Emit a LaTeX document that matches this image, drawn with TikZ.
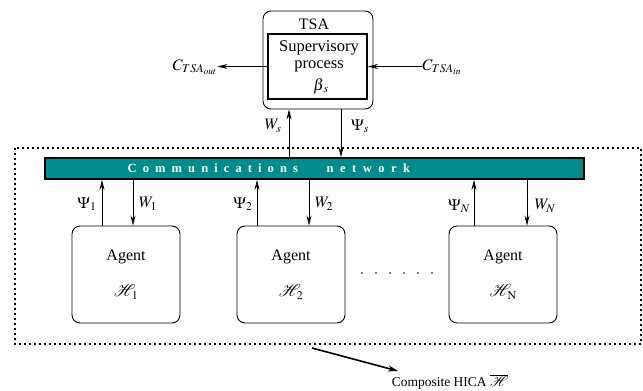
\documentclass[tikz,border=0pt]{standalone}
\usepackage{mathptmx}
\usepackage{mathrsfs}
\usepackage{fontspec}
\setmainfont{Liberation Serif}
\usetikzlibrary{arrows.meta}
\definecolor{netteal}{RGB}{0,140,140}
\newcommand\lgap{\hspace{6.1pt}}
\newcommand\ngap{\hspace{6.5pt}}
\begin{document}
\begin{tikzpicture}[x=1pt,y=-1pt,
  box/.style={draw, rounded corners=8pt, line width=0.9pt, inner sep=0},
  arr/.style={-{Stealth[length=10pt,width=5pt]}, line width=0.8pt},
  lbl/.style={font=\fontsize{16}{19}\selectfont, inner sep=0},
  nettext/.style={inner sep=0, anchor=west, text=white, font=\bfseries\fontsize{12.5}{14}\selectfont}]
\useasboundingbox (0,0) rectangle (643,391);
% dotted frame of the composite
\draw[line width=1.8pt, dash pattern=on 1.8pt off 3.2pt] (15,148) rectangle (641,344);
% TSA
\node[box, minimum width=110pt, minimum height=98pt] (tsa) at (318,60) {};
\node[draw, line width=2pt, inner sep=0, minimum width=99pt, minimum height=65pt] (sup) at (317.5,66.5) {};
\node[lbl] (tsalbl) at (314,24) {TSA};
\node[inner sep=0, align=center, font=\fontsize{16.5}{17}\selectfont, anchor=north] (suplbl) at (319,40)
  {Supervisory\\process\hspace{15pt}};
\node[lbl] (beta) at (321,86) {$\beta_{\,s}$};
\node[lbl] (cout) at (195,67) {$C_{TSA_{out}}$};
\node[lbl] (cin) at (442,67) {$C_{TSA_{in}}$};
\draw[arr] (sup.west) -- (sup.west -| cout.east);
\draw[arr] (sup.east -| cin.west) -- (sup.east);
% network bar
\node[draw, line width=1.8pt, fill=netteal, inner sep=0, minimum width=539pt, minimum height=21pt] (bar) at (314.5,168.5) {};
\node[nettext] (barlbl1) at (127.5,168.5)
  {C\lgap o\lgap m\lgap m\lgap u\lgap n\lgap i\lgap c\lgap a\lgap t\lgap i\lgap o\lgap n\lgap s};
\node[nettext] (barlbl2) at (326.5,168.5)
  {n\ngap e\ngap t\ngap w\ngap o\ngap r\ngap k};
% TSA <-> network
\coordinate (ws) at ([xshift=-29pt]tsa.south);
\coordinate (ps) at ([xshift=23pt]tsa.south);
\draw[arr] (ws |- bar.north) -- (ws);
\draw[arr] (ps) -- (ps |- bar.north);
\node[lbl] (wslbl) at (273,126) {$W_s$};
\node[lbl] (pslbl) at (360,126) {$\Psi_s$};
% agents
\node[box, minimum width=108pt, minimum height=97pt] (a1) at (126,274.5) {};
\node[box, minimum width=108pt, minimum height=97pt] (a2) at (291,274.5) {};
\node[box, minimum width=108pt, minimum height=97pt] (aN) at (503,274.5) {};
\node[lbl] (a1t) at (126,257) {Agent};
\node[lbl] (a2t) at (291,257) {Agent};
\node[lbl] (aNt) at (503,257) {Agent};
\node[lbl] (a1h) at (126,292) {$\mathscr{H}_{\,1}$};
\node[lbl] (a2h) at (291,292) {$\mathscr{H}_{\,2}$};
\node[lbl] (aNh) at (503,292) {$\mathscr{H}_{\,\mathrm{N}}$};
% agent <-> network arrows
\coordinate (p1) at ([xshift=-24pt]a1.north);
\coordinate (w1) at ([xshift=7pt]a1.north);
\coordinate (p2) at ([xshift=-34pt]a2.north);
\coordinate (w2) at ([xshift=18pt]a2.north);
\coordinate (pN) at ([xshift=-29pt]aN.north);
\coordinate (wN) at ([xshift=24pt]aN.north);
\draw[arr] (p1) -- (p1 |- bar.south);
\draw[arr] (w1 |- bar.south) -- (w1);
\draw[arr] (p2) -- (p2 |- bar.south);
\draw[arr] (w2 |- bar.south) -- (w2);
\draw[arr] (pN) -- (pN |- bar.south);
\draw[arr] (wN |- bar.south) -- (wN);
\node[lbl] (p1l) at (87,204) {$\Psi_1$};
\node[lbl] (w1l) at (148,204) {$W_1$};
\node[lbl] (p2l) at (243,204) {$\Psi_2$};
\node[lbl] (w2l) at (324,204) {$W_2$};
\node[lbl] (pNl) at (459,206) {$\Psi_N$};
\node[lbl] (wNl) at (545,206) {$W_N$};
% ellipsis dots
\foreach \i in {0,...,5} \fill (362+14*\i,273) circle (0.8pt);
% composite label
\node[inner sep=0, font=\fontsize{13.5}{16}\selectfont] (comp) at (450,382) {Composite HICA $\overline{\mathscr{H}}$};
\coordinate (cs) at (312,348);
\coordinate (ce) at (398,371);
\draw[-{Stealth[length=10pt,width=6pt]}, line width=1.6pt] (cs) -- (ce);
\end{tikzpicture}
\end{document}
